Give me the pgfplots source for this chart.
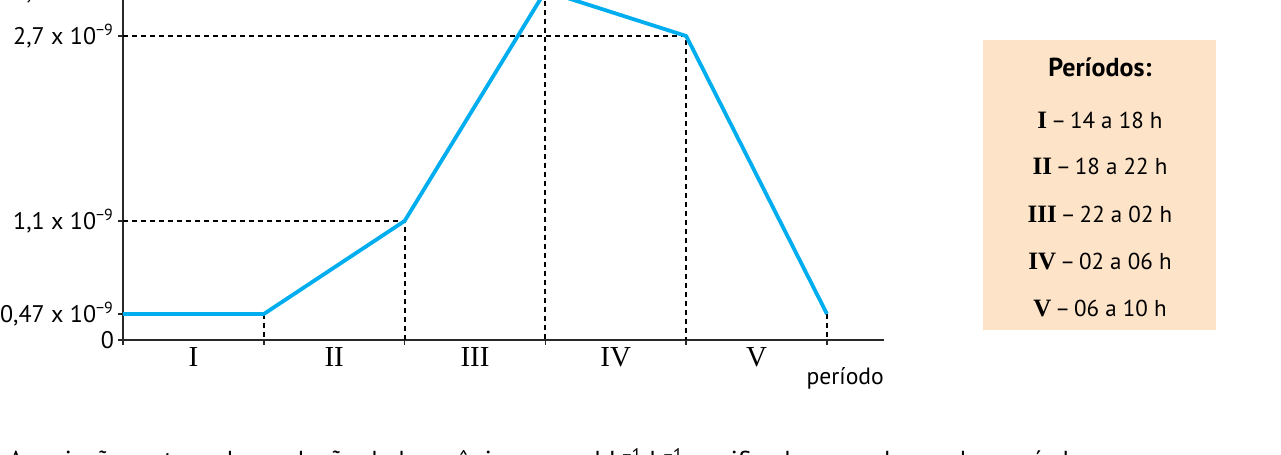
\documentclass[border=0pt]{standalone}
\usepackage{pgfplots}
\pgfplotsset{compat=1.18}
\usepackage{fontspec}
\setmainfont{PT Sans}
\newfontfamily\romanfont{Liberation Serif}
\definecolor{curveblue}{RGB}{0,173,239}
\definecolor{peach}{RGB}{253,227,200}
\definecolor{axisgray}{RGB}{40,40,40}
\begin{document}
\begin{tikzpicture}[x=0.5pt,y=0.5pt]
\begin{axis}[
  at={(61.5pt,57.5pt)}, anchor=south west,
  scale only axis, width=380.5pt, height=191.375pt,
  xmin=0, xmax=5.405, ymin=0, ymax=3.4,
  y coord trafo/.code={\pgfmathparse{(#1<=0.47)*(#1*55.32)+((#1>0.47)&&(#1<=1.1))*(26+(#1-0.47)*147.62)+((#1>1.1)&&(#1<=2.7))*(119+(#1-1.1)*115.625)+(#1>2.7)*(304+(#1-2.7)*112.5)}},
  axis x line=bottom, axis y line=left,
  axis line style={-, draw=axisgray, line width=0.75pt},
  tick style={draw=axisgray, line width=0.75pt},
  tick align=outside, major tick length=2.5pt,
  xtick={0,1,2,3,4,5}, xticklabels={,,,,,},
  extra x ticks={0.5,1.5,2.5,3.5,4.5},
  extra x tick labels={I,II,III,IV,V},
  extra x tick style={major tick length=0pt, tick label style={font=\romanfont\fontsize{14.5}{16}\selectfont, yshift=0pt}},
  ytick={0,0.47,1.1,2.7,3.1},
  yticklabels={{0},{0,47 x 10\textsuperscript{−9}},{1,1 x 10\textsuperscript{−9}},{2,7 x 10\textsuperscript{−9}},{3,1 x 10\textsuperscript{−9}}},
  yticklabel style={font=\fontsize{12}{14}\selectfont, xshift=1.5pt},
  xlabel={período},
  xlabel style={at={(axis description cs:0.949,-0.099)}, anchor=center, font=\fontsize{11.8}{13}\selectfont},
  clip=false,
]
\addplot[black, line width=0.95pt, dash pattern=on 2.5pt off 2pt] coordinates {(0,3.1) (3,3.1) (3,0)};
\addplot[black, line width=0.95pt, dash pattern=on 2.5pt off 2pt] coordinates {(0,2.7) (4,2.7) (4,0)};
\addplot[black, line width=0.95pt, dash pattern=on 2.5pt off 2pt] coordinates {(0,1.1) (2,1.1) (2,0)};
\addplot[black, line width=0.95pt, dash pattern=on 2.5pt off 2pt] coordinates {(1,0.47) (1,0)};
\addplot[black, line width=0.95pt, dash pattern=on 2.5pt off 2pt] coordinates {(5,0.47) (5,0)};
\addplot[curveblue, line width=1.9pt, line join=round] coordinates {(0,0.47) (1,0.47) (2,1.1) (3,3.1) (4,2.7) (5,0.47)};
\end{axis}
\fill[peach] (983,125) rectangle (1216,415);
\node[font=\bfseries\fontsize{13}{15}\selectfont] at (1100,388) {Períodos:};
\node[font=\fontsize{11.5}{14}\selectfont] at (1100,335) {{\romanfont\bfseries\fontsize{12.5}{14}\selectfont I}\,–\,14 a 18 h};
\node[font=\fontsize{11.5}{14}\selectfont] at (1100,289) {{\romanfont\bfseries\fontsize{12.5}{14}\selectfont II}\,–\,18 a 22 h};
\node[font=\fontsize{11.5}{14}\selectfont] at (1100,241) {{\romanfont\bfseries\fontsize{12.5}{14}\selectfont III}\,–\,22 a 02 h};
\node[font=\fontsize{11.5}{14}\selectfont] at (1100,193) {{\romanfont\bfseries\fontsize{12.5}{14}\selectfont IV}\,–\,02 a 06 h};
\node[font=\fontsize{11.5}{14}\selectfont] at (1100,146) {{\romanfont\bfseries\fontsize{12.5}{14}\selectfont V}\,–\,06 a 10 h};
\node[anchor=base west, inner sep=0pt, font=\fontsize{13}{15}\selectfont] at (8,-15) {A variação na taxa de produção do hormônio, em mol L\textsuperscript{−1} h\textsuperscript{−1}, verificada em cada um dos períodos};
\pgfresetboundingbox
\path[use as bounding box] (0,0) rectangle (1281,455);
\end{tikzpicture}
\end{document}
